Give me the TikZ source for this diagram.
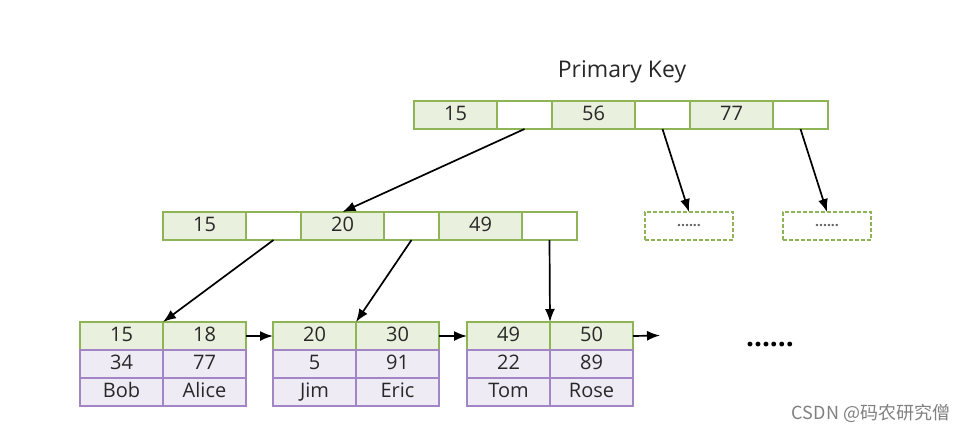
\documentclass[tikz,border=0pt]{standalone}
\usepackage{fontspec}
\setmainfont{Open Sans}
\newfontfamily\cjkfont{Noto Sans CJK SC}
\usetikzlibrary{arrows.meta,positioning}

\definecolor{keyline}{RGB}{143,180,86}
\definecolor{keyfill}{RGB}{233,240,221}
\definecolor{rowline}{RGB}{162,133,197}
\definecolor{rowfill}{RGB}{239,235,245}
\definecolor{txt}{RGB}{40,40,40}

\tikzset{
  cell/.style={draw, line width=1.8pt, outer sep=0pt, inner sep=0pt,
    minimum height=28pt, text=txt, text height=15pt, text depth=4pt,
    font=\fontsize{20}{24}\selectfont},
  key/.style={cell, draw=keyline, fill=keyfill, minimum width=83pt},
  ptr/.style={cell, draw=keyline, fill=white, minimum width=55pt},
  row/.style={cell, draw=rowline, fill=rowfill, minimum width=83pt},
  more/.style={draw=keyline, line width=1.8pt, dash pattern=on 4pt off 2pt,
    minimum width=88pt, minimum height=28pt, outer sep=0pt,
    text=gray!80!black, font=\bfseries\fontsize{14}{16}\selectfont},
  link/.style={line width=1.7pt, -{Latex[length=13pt,width=10pt]}}
}

\begin{document}
\begin{tikzpicture}[x=1pt,y=-1pt]
  \useasboundingbox (0,0) rectangle (972,432);
  % root
  \node[font=\fontsize{23}{28}\selectfont, text=txt] (title) at (622,72) {Primary Key};
  \node[key, anchor=west] (r1) at (414,115) {15};
  \node[ptr, right=0pt of r1] (r2) {};
  \node[key, right=0pt of r2] (r3) {56};
  \node[ptr, right=0pt of r3] (r4) {};
  \node[key, right=0pt of r4] (r5) {77};
  \node[ptr, right=0pt of r5] (r6) {};
  % inner level
  \node[key, anchor=west] (m1) at (163,226) {15};
  \node[ptr, right=0pt of m1] (m2) {};
  \node[key, right=0pt of m2] (m3) {20};
  \node[ptr, right=0pt of m3] (m4) {};
  \node[key, right=0pt of m4] (m5) {49};
  \node[ptr, right=0pt of m5] (m6) {};
  \node[more] (d1) at (689,226) {......};
  \node[more] (d2) at (827,226) {......};
  % leaves
  \foreach \i/\x/\ka/\kb/\va/\vb/\na/\nb in
      {1/80/15/18/34/77/Bob/Alice, 2/273/20/30/5/91/Jim/Eric, 3/467/49/50/22/89/Tom/Rose}{
    \node[key, anchor=north west] (l\i a) at (\x,322) {\ka};
    \node[key, right=0pt of l\i a] (l\i b) {\kb};
    \node[row, below=0pt of l\i a] (v\i a) {\va};
    \node[row, below=0pt of l\i b] (v\i b) {\vb};
    \node[row, below=0pt of v\i a] (n\i a) {\na};
    \node[row, below=0pt of v\i b] (n\i b) {\nb};
  }
  \coordinate (next) at (660,335.5);
  \node[font=\bfseries\fontsize{28}{30}\selectfont] (dots) at (770,345) {......};
  \node[font=\cjkfont\fontsize{18}{20}\selectfont, text=gray] (mark) at (871,413) {CSDN @码农研究僧};
  % pointers
  \draw[link] (r2.south) -- (m3.north);
  \draw[link] (r4.south) -- (d1.north);
  \draw[link] (r6.south) -- (d2.north);
  \draw[link] (m2.south) -- (l1b.north west);
  \draw[link] (m4.south) -- (l2b.north west);
  \draw[link] (m6.south) -- (l3b.north west);
  \draw[link] (l1b.east) -- (l2a.west);
  \draw[link] (l2b.east) -- (l3a.west);
  \draw[link] (l3b.east) -- (next);
\end{tikzpicture}
\end{document}
